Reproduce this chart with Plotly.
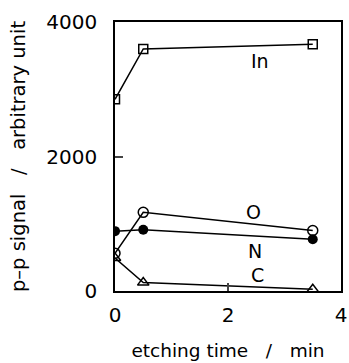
import plotly.graph_objects as go

time = [0, 0.5, 3.5]
in_vals = [2850, 3600, 3670]
o_vals = [560, 1170, 900]
n_vals = [890, 910, 770]
c_vals = [490, 125, 25]

labels = ["In", "O", "N", "C"]
label_x = [2.57, 2.45, 2.48, 2.53]
label_y = [3420, 1180, 600, 240]

x_ticks = [0, 2, 4]
y_ticks = [0, 2000, 4000]

FONT = "DejaVu Sans"
NB = "\u00a0"

fig = go.Figure()
line = dict(color="black", width=1.5)
fig.add_trace(go.Scatter(x=time, y=in_vals, mode="lines+markers", line=line,
                         marker=dict(symbol="square-open", size=9, color="black", line=dict(width=1.5))))
fig.add_trace(go.Scatter(x=time, y=o_vals, mode="lines+markers", line=line,
                         marker=dict(symbol="circle-open", size=10, color="black", line=dict(width=1.5))))
fig.add_trace(go.Scatter(x=time, y=n_vals, mode="lines+markers", line=line,
                         marker=dict(symbol="circle", size=10, color="black")))
fig.add_trace(go.Scatter(x=time, y=c_vals, mode="lines+markers", line=line,
                         marker=dict(symbol="triangle-up-open", size=10, color="black", line=dict(width=1.5))))

for t, lx, ly in zip(labels, label_x, label_y):
    fig.add_annotation(x=lx, y=ly, text=t, showarrow=False,
                       font=dict(family=FONT, size=19, color="black"))

xtitle = "etching time" + NB * 3 + "/" + NB * 3 + "min"
ytitle = "p" + "\u2013" + "p signal" + NB * 3 + "/" + NB * 3 + "arbitrary unit"

fig.update_layout(
    width=349, height=363,
    margin=dict(l=115, r=8, t=22, b=72, autoexpand=False),
    paper_bgcolor="white", plot_bgcolor="white",
    showlegend=False,
    font=dict(family=FONT, size=18, color="black"),
)
fig.update_xaxes(range=[0, 4], tickvals=x_ticks, ticks="inside", ticklen=8, tickwidth=1.5,
                 showline=True, linecolor="black", linewidth=1.5, mirror=True,
                 showgrid=False, zeroline=False, ticklabelstandoff=5, automargin=False,
                 tickfont=dict(size=20),
                 title=dict(text=xtitle, font=dict(size=18.5), standoff=18))
fig.update_yaxes(range=[0, 4000], tickvals=y_ticks, ticks="inside", ticklen=8, tickwidth=1.5,
                 showline=True, linecolor="black", linewidth=1.5, mirror=True,
                 showgrid=False, zeroline=False, ticklabelstandoff=12, automargin=False,
                 tickfont=dict(size=20),
                 title=dict(text=ytitle, font=dict(size=19.5), standoff=16))

fig.write_html("out.html")
